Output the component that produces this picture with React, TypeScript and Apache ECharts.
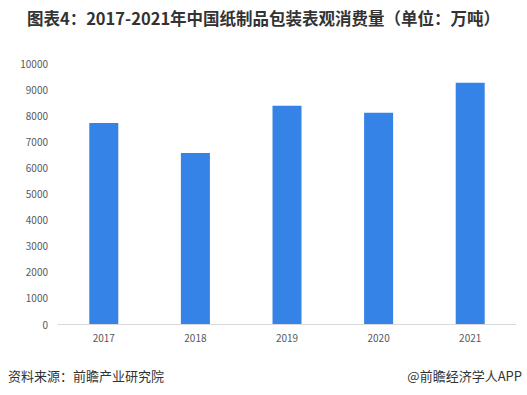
import React, { useEffect, useRef } from "react";
import * as echarts from "echarts";

const categories = ["2017", "2018", "2019", "2020", "2021"];
const values = [7700, 6550, 8360, 8090, 9240];
const titleText = "图表4：2017-2021年中国纸制品包装表观消费量（单位：万吨）";
const sourceText = "资料来源：前瞻产业研究院";
const brandText = "@前瞻经济学人APP";

export default function App() {
  const ref = useRef<HTMLDivElement>(null);
  useEffect(() => {
    if (!ref.current) return;
    const chart = echarts.init(ref.current, null, { renderer: "svg" });
    const font = "'Microsoft YaHei', 'Noto Sans CJK SC', sans-serif";
    chart.setOption({
      animation: false,
      backgroundColor: "#ffffff",
      title: {
        text: titleText,
        left: "center",
        top: 5,
        textStyle: { fontSize: 16.5, fontWeight: "bold", color: "#333333", fontFamily: font },
      },
      grid: { left: 58, right: 11, top: 63, bottom: 71, containLabel: false },
      xAxis: {
        type: "category",
        data: categories,
        axisLine: { show: true, lineStyle: { color: "#d9d9d9", width: 1 } },
        axisTick: { show: false },
        axisLabel: { color: "#595959", fontSize: 10, margin: 8, fontFamily: font },
      },
      yAxis: {
        type: "value",
        min: 0,
        max: 10000,
        interval: 1000,
        splitLine: { show: false },
        axisLine: { show: false },
        axisTick: { show: false },
        axisLabel: {
          color: "#595959",
          fontSize: 10,
          margin: 10,
          fontFamily: font,
          formatter: (v: number) => String(v),
        },
      },
      series: [
        {
          type: "bar",
          data: values,
          barWidth: 29,
          itemStyle: { color: "#3583E6" },
        },
      ],
      graphic: [
        {
          type: "text",
          left: 8,
          top: 369,
          style: { text: sourceText, fill: "#333333", font: `13px ${font}` },
        },
        {
          type: "text",
          right: 5,
          top: 369,
          style: { text: brandText, fill: "#333333", font: `13px ${font}` },
        },
      ],
    });
    return () => chart.dispose();
  }, []);
  return <div ref={ref} style={{ width: 527, height: 395, position: "absolute", left: 0, top: 0 }} />;
}
